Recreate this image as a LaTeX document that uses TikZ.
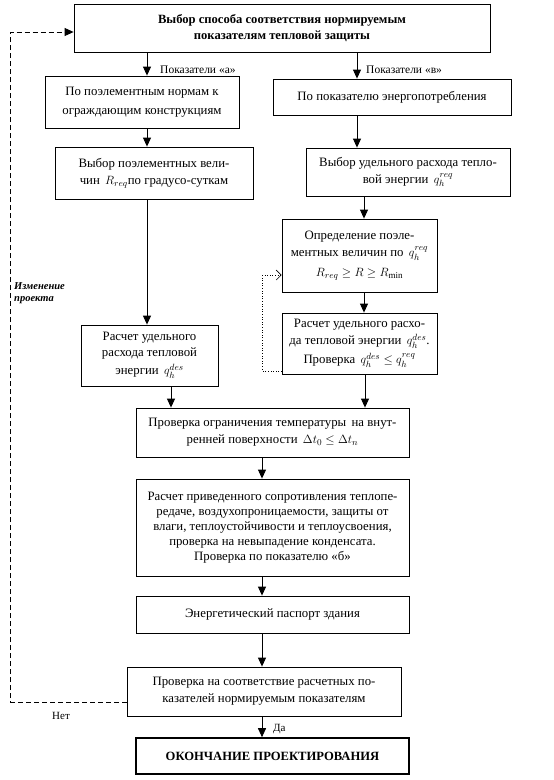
\documentclass[tikz,border=0pt]{standalone}
\usepackage{fontspec}
\setmainfont{Liberation Serif}
\usetikzlibrary{arrows.meta,calc}
\begin{document}
\begin{tikzpicture}[x=1pt,y=-1pt,
  box/.style={draw, line width=0.8pt, align=center, inner sep=0pt, font=\fontsize{12.8}{17}\selectfont},
  arr/.style={line width=0.9pt, -{Triangle[length=9pt,width=8pt]}},
  lbl/.style={font=\fontsize{11}{12}\selectfont, inner sep=0pt, anchor=west},
  fb/.style={line width=0.8pt, dash pattern=on 5pt off 3pt, -{Triangle[length=9pt,width=8pt]}},
  fbdot/.style={line width=0.6pt, dotted, -{Straight Barb[length=5pt,width=10pt]}}]
\useasboundingbox (0,0) rectangle (554,780);

\node[box, font=\bfseries\fontsize{12.6}{16}\selectfont, minimum width=416pt, minimum height=48pt] (top) at (282,28)
  {Выбор способа соответствия нормируемым\\показателям тепловой защиты};
\node[box, font=\fontsize{12.8}{19}\selectfont, minimum width=194pt, minimum height=52pt] (A1) at (142,102)
  {По поэлементным нормам к\\ограждающим конструкциям};
\node[box, minimum width=238pt, minimum height=36pt] (B1) at (392,97)
  {По показателю энергопотребления};
\node[box, minimum width=198pt, minimum height=52pt] (A2) at (154,173)
  {Выбор поэлементных вели-\\чин \,$R_{req}$по градусо-суткам};
\node[box, minimum width=204pt, minimum height=48pt] (B2) at (408,172)
  {Выбор удельного расхода тепло-\\вой энергии \,$q_h^{req}$};
\node[box, minimum width=155pt, minimum height=73pt] (B3) at (359.5,255.5)
  {Определение поэле-\\ментных величин по \,$q_h^{req}$\\[3pt]$R_{req}\geq R\geq R_{\min}$};
\node[box, minimum width=155pt, minimum height=61pt] (B4) at (359.5,343.5)
  {Расчет удельного расхо-\\да тепловой энергии \,$q_h^{des}$.\\[2pt]Проверка \,$q_h^{des}\leq q_h^{req}$};
\node[box, font=\fontsize{12.8}{16}\selectfont, minimum width=137pt, minimum height=61pt] (A3) at (149.5,355.5)
  {Расчет удельного\\расхода тепловой\\[2pt]энергии \,$q_h^{des}$};
\node[box, minimum width=273pt, minimum height=49pt] (C1) at (272.5,432.5)
  {Проверка ограничения температуры \,на внут-\\ренней поверхности \,$\Delta t_0\leq\Delta t_n$};
\node[box, font=\fontsize{12.8}{15}\selectfont, minimum width=273pt, minimum height=97pt] (C2) at (272.5,527.5)
  {Расчет приведенного сопротивления теплопе-\\редаче, воздухопроницаемости, защиты от\\влаги, теплоустойчивости и теплоусвоения,\\проверка на невыпадение конденсата.\\Проверка по показателю «б»};
\node[box, minimum width=273pt, minimum height=37pt] (C3) at (272.5,614.5)
  {Энергетический паспорт здания};
\node[box, minimum width=274pt, minimum height=49pt] (C4) at (264,691.5)
  {Проверка на соответствие расчетных по-\\казателей нормируемым показателям};
\node[box, line width=1.6pt, font=\bfseries\fontsize{12.6}{16}\selectfont, minimum width=273pt, minimum height=36pt] (C5) at (272.5,756)
  {ОКОНЧАНИЕ ПРОЕКТИРОВАНИЯ};

% x positions of vertical connectors
\coordinate (xa) at (147,0);
\coordinate (xb) at (357,0);
\coordinate (xc) at (364,0);
\coordinate (xd) at (171,0);
\coordinate (xe) at (365,0);
\coordinate (xm) at (262,0);

\draw[arr] (top.south -| xa) -- (A1.north -| xa);
\draw[arr] (top.south -| xb) -- (B1.north -| xb);
\draw[arr] (A1.south -| xa) -- (A2.north -| xa);
\draw[arr] (B1.south -| xb) -- (B2.north -| xb);
\draw[arr] (A2.south -| xa) -- (A3.north -| xa);
\draw[arr] (B2.south -| xc) -- (B3.north -| xc);
\draw[arr] (B3.south -| xc) -- (B4.north -| xc);
\draw[arr] (A3.south -| xd) -- (C1.north -| xd);
\draw[arr] (B4.south -| xe) -- (C1.north -| xe);
\draw[arr] (C1.south -| xm) -- (C2.north -| xm);
\draw[arr] (C2.south -| xm) -- (C3.north -| xm);
\draw[arr] (C3.south -| xm) -- (C4.north -| xm);
\draw[arr] (C4.south -| xm) -- (C5.north -| xm);

% feedback loops
\draw[fb] ([yshift=-10.5pt]C4.west) -- ++(-116,0) |- ([yshift=-4pt]top.west);
\draw[fbdot] ([yshift=-27.5pt]B4.west) -- ++(-19,0) |- ([yshift=-19.5pt]B3.west);

% labels
\node[lbl, font=\fontsize{11.5}{12}\selectfont] (la) at (160,70) {Показатели «а»};
\node[lbl, font=\fontsize{11.5}{12}\selectfont] (lb) at (366,70) {Показатели «в»};
\node[lbl, font=\bfseries\itshape\fontsize{10.5}{11.5}\selectfont, align=left] (lchg) at (14,293) {Изменение\\проекта};
\node[lbl] (lno) at (52,716) {Нет};
\node[lbl] (lyes) at (273,729) {Да};
\end{tikzpicture}
\end{document}
